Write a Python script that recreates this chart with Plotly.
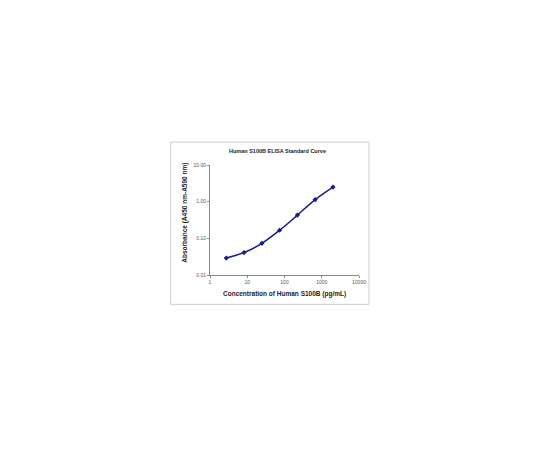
import plotly.graph_objects as go

# S100B standard curve values
concentracao = [2.74, 8.2, 24.7, 74, 222, 667, 2000]
absorbancia = [0.029, 0.041, 0.073, 0.166, 0.43, 1.14, 2.5]

y_ticks = [0.01, 0.1, 1, 10]
y_labels = ['0.01', '0.10', '1.00', '10.00']
x_ticks = [1, 10, 100, 1000, 10000]
x_labels = ['1', '10', '100', '1000', '10000']

fig = go.Figure()
fig.add_trace(go.Scatter(x=concentracao, y=absorbancia, mode='lines+markers',
                         line=dict(color='#1a1a8c', width=1.5, shape='spline'),
                         marker=dict(symbol='diamond', size=4, color='#1a1a8c')))

fonte = 'Liberation Sans, Arial, sans-serif'
# a pagina tem 8px de margem no body, por isso tudo vai 8px para cima/esquerda
fig.update_layout(
    width=540, height=450,
    margin=dict(l=201.5, r=189, t=157, b=182.5),
    paper_bgcolor='white', plot_bgcolor='white',
    showlegend=False,
    font=dict(family=fonte, color='#333333', size=5),
    xaxis=dict(type='log', range=[0, 4], tickvals=x_ticks, ticktext=x_labels,
               showgrid=False, zeroline=False, showline=True, linecolor='#888888',
               linewidth=1, ticks='outside', ticklen=2, tickcolor='#888888',
               tickfont=dict(size=5, color='#555555')),
    yaxis=dict(type='log', range=[-2, 1], tickvals=y_ticks, ticktext=y_labels,
               showgrid=False, zeroline=False, showline=True, linecolor='#888888',
               linewidth=1, ticks='outside', ticklen=2, tickcolor='#888888',
               tickfont=dict(size=5, color='#555555')),
)

# moldura cinza clara em volta do grafico
fig.add_shape(type='rect', xref='paper', yref='paper', x0=-0.264, x1=1.067, y0=-0.267, y1=1.208,
              line=dict(color='#cccccc', width=1))

fig.add_annotation(text='<b>Human S100B ELISA Standard Curve</b>', xref='paper', yref='paper',
                   x=(277.3 - 209.5) / 149.5, y=(275.5 - 150.7) / 110.5, showarrow=False,
                   xanchor='center', yanchor='middle',
                   font=dict(size=5.5, color='#222222'))
fig.add_annotation(text='<b>Concentration of Human S100B (pg/mL)</b>', xref='paper', yref='paper',
                   x=(284.3 - 209.5) / 149.5, y=(275.5 - 294.7) / 110.5, showarrow=False,
                   xanchor='center', yanchor='middle',
                   font=dict(size=6.5, color='#222222'))
fig.add_annotation(text='<b>Absorbance (A450 nm-A590 nm)</b>', xref='paper', yref='paper',
                   x=(184.3 - 209.5) / 149.5, y=(275.5 - 213) / 110.5, showarrow=False,
                   xanchor='center', yanchor='middle',
                   textangle=-90, font=dict(size=6.5, color='#222222'))

fig.write_html("out.html")
